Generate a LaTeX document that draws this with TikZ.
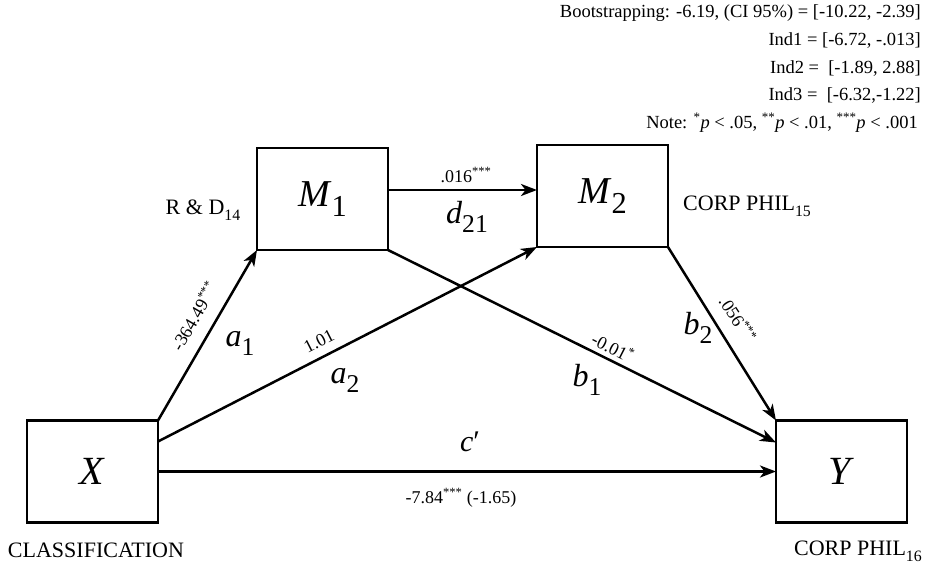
\documentclass[tikz,border=0pt]{standalone}
\usepackage{fontspec}
\setmainfont{Liberation Serif}
\usepackage{graphicx}
\usetikzlibrary{arrows.meta}
\newcommand\fs[1]{\fontsize{#1}{#1}\selectfont}
\newcommand\lowsub[1]{\raisebox{-0.28em}{\scalebox{0.8}{#1}}}
\newcommand\labsub[1]{\raisebox{-0.3em}{\scalebox{0.72}{#1}}}
\begin{document}
\begin{tikzpicture}[x=1pt,y=-1pt,
  box/.style={draw,line width=2.5pt,minimum width=131pt,minimum height=102pt,inner sep=0pt,outer sep=0pt},
  arr/.style={line width=2.5pt,-{Stealth[length=16pt,width=12pt,inset=4.5pt]}},
  coef/.style={font=\fs{18},inner sep=0pt},
  pl/.style={font=\fs{32},inner sep=0pt},
  lab/.style={font=\fs{22},anchor=base,inner sep=0pt},
  note/.style={font=\fs{18.5},anchor=base east,inner sep=0pt}]
\useasboundingbox (0,0) rectangle (930,565);

% boxes
\node[box] (M1) at (322.5,199) {\fs{38}\textit{M}\lowsub{1}};
\node[box] (M2) at (602.5,196) {\fs{38}\textit{M}\lowsub{2}};
\node[box] (X) at (92.5,471.5) {\fs{40}\textit{X}};
\node[box] (Y) at (841.5,471.5) {\fs{40}\textit{Y}};

% connectors
\coordinate (xa2) at ([yshift=30pt]X.east);
\coordinate (m1o) at ([yshift=9pt]M1.east);
\coordinate (yb1) at ([yshift=29pt]Y.west);
\draw[arr] (X.north east) -- (M1.south west);
\draw[arr] (xa2) -- (M2.south west);
\draw[arr] (X.east) -- (X.east -| Y.west);
\draw[arr] (m1o) -- (m1o -| M2.west);
\draw[arr] (M1.south east) -- (yb1);
\draw[arr] (M2.south east) -- (Y.north west);

% path labels
\node[coef,anchor=base] (c21) at (466,182) {.016\textsuperscript{***}};
\node[pl] (d21) at (467,217) {\textit{d}\lowsub{21}};
\node[coef,rotate=60] (ca1) at (194,316) {-364.49\textsuperscript{***}};
\node[pl] (la1) at (240,343) {\textit{a}\lowsub{1}};
\node[coef,rotate=27] (ca2) at (319,341) {1.01};
\node[pl] (la2) at (345,380) {\textit{a}\lowsub{2}};
\node[coef,rotate=-27] (cb1) at (613,347) {-0.01\textsuperscript{*}};
\node[pl] (lb1) at (587,380) {\textit{b}\lowsub{1}};
\node[coef,rotate=-57] (cb2) at (738,319) {.056\textsuperscript{***}};
\node[pl] (lb2) at (698,328) {\textit{b}\lowsub{2}};
\node[pl,font=\fs{30}] (lc) at (470,442) {\textit{c}′};
\node[coef,anchor=base] (cc) at (461,503) {-7.84\textsuperscript{***} (-1.65)};

% variable labels
\node[lab] (rd) at (203,214) {R \& D\labsub{14}};
\node[lab,anchor=base west] (cp15) at (683,210) {CORP PHIL\labsub{15}};
\node[lab] (cls) at (96,557) {CLASSIFICATION};
\node[lab,anchor=base east] (cp16) at (922,555) {CORP PHIL\labsub{16}};

% note block
\node[note] (n1) at (921,17) {Bootstrapping: -6.19, (CI 95\%) = [-10.22, -2.39]};
\node[note] (n2) at (921,45) {Ind1 = [-6.72, -.013]};
\node[note] (n3) at (921,73) {Ind2 = \ [-1.89, 2.88]};
\node[note] (n4) at (921,100) {Ind3 = \ [-6.32,-1.22]};
\node[note] (n5) at (918,128) {Note: \textsuperscript{*}\textit{p} < .05, \textsuperscript{**}\textit{p} < .01, \textsuperscript{***}\textit{p} < .001};
\end{tikzpicture}
\end{document}
